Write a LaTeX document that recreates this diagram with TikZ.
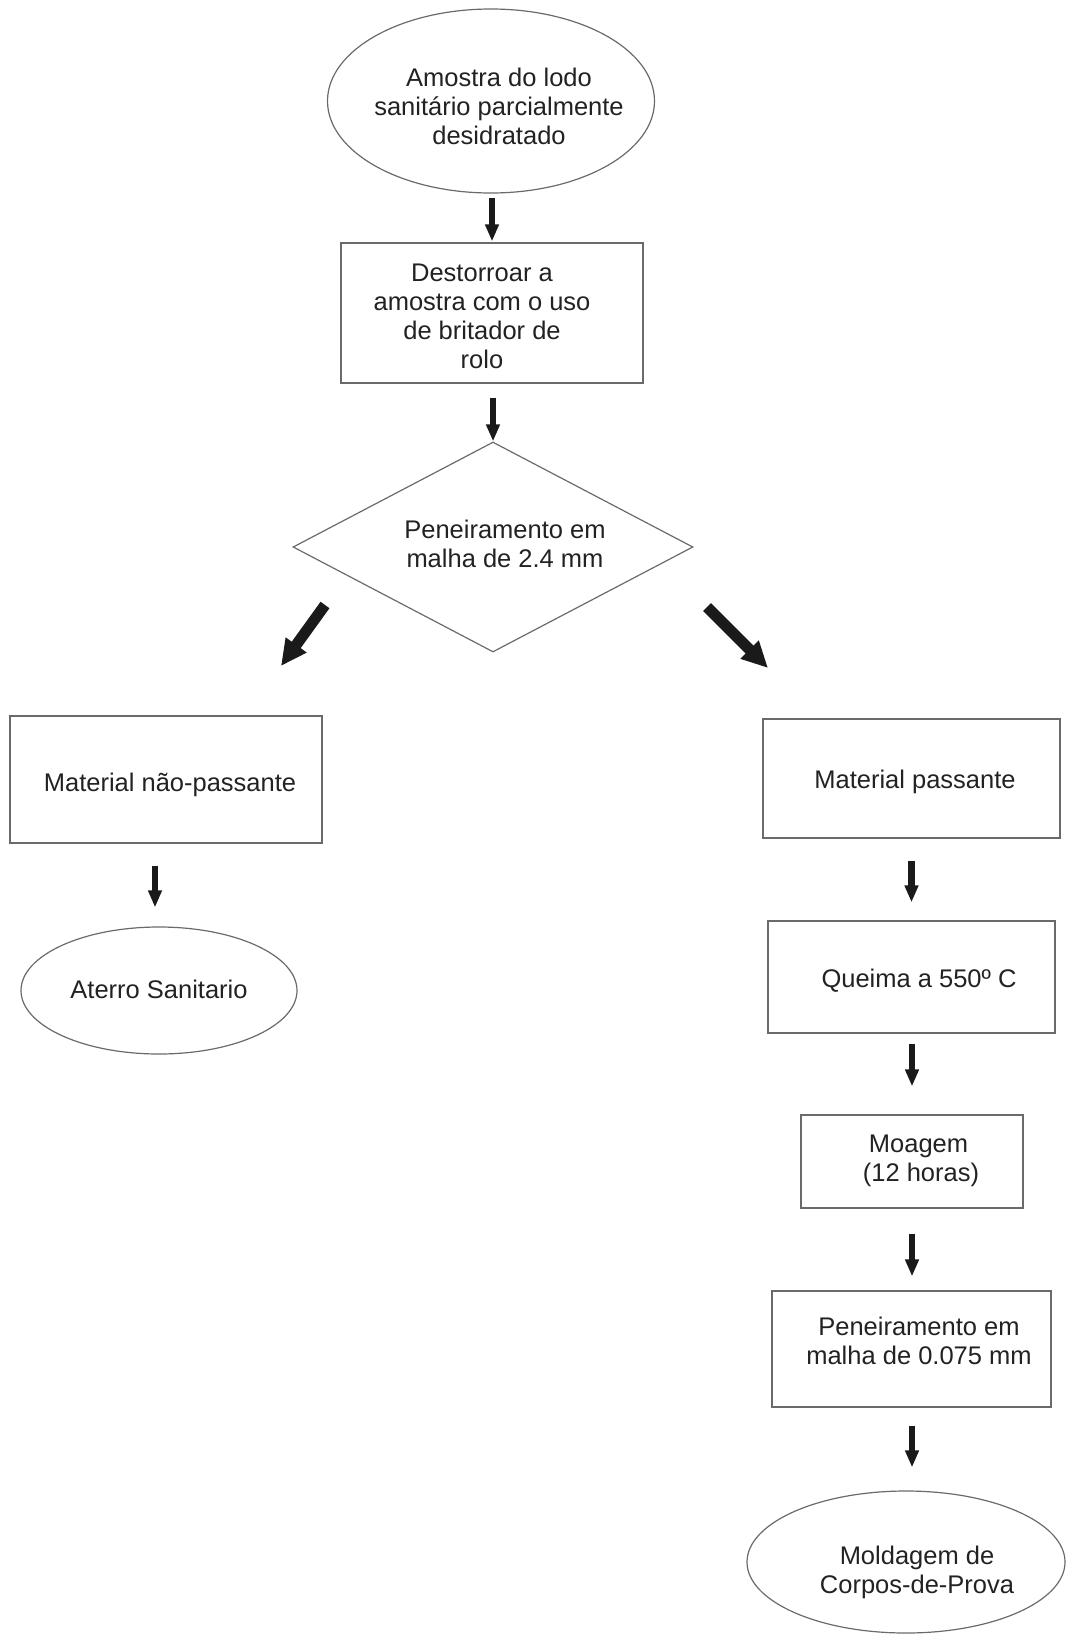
\documentclass[tikz,border=0pt]{standalone}
\usepackage{fontspec}
\setmainfont{Liberation Sans}
\usetikzlibrary{shapes.geometric,arrows.meta,calc}
\definecolor{outline}{HTML}{6A6A6A}
\definecolor{ink}{HTML}{222222}
\definecolor{arrowfill}{HTML}{1A1A1A}
\begin{document}
\begin{tikzpicture}[x=1pt,y=-1pt,
  stepbox/.style={draw=outline, line width=1.2pt, rectangle, inner sep=0pt},
  oval/.style={draw=outline, line width=1.2pt, ellipse, inner sep=0pt},
  rhomb/.style={draw=outline, line width=1.2pt, diamond, inner sep=0pt},
  txt/.style={text=ink, font=\fontsize{25.5pt}{29pt}\selectfont, align=center, inner sep=0pt},
  varrow/.style={draw=arrowfill, line width=6.5pt, -{Triangle[width=13pt,length=17pt]}},
  darrow/.style={draw=arrowfill, line width=11pt, -{Triangle[width=24pt,length=26pt]}},
]
\useasboundingbox (0,0) rectangle (1074,1636);

% main trunk
\node[oval, minimum width=327pt, minimum height=184pt] (start) at (491,101) {};
\node[txt] (startT) at (499,106) {Amostra do lodo\\sanitário parcialmente\\desidratado};

\node[stepbox, minimum width=302pt, minimum height=140pt] (crush) at (492,313) {};
\node[txt] (crushT) at (482,316) {Destorroar a\\amostra com o uso\\de britador de\\rolo};

\node[rhomb, minimum width=400pt, minimum height=210pt] (sieve) at (493,547) {};
\node[txt] (sieveT) at (505,544) {Peneiramento em\\malha de 2.4 mm};

% left branch
\node[stepbox, minimum width=312pt, minimum height=127pt] (retained) at (166,779.5) {};
\node[txt] (retainedT) at (170,785) {Material não-passante};

\node[oval, minimum width=276pt, minimum height=127pt] (landfill) at (159,990.5) {};
\node[txt] (landfillT) at (159,989) {Aterro Sanitario};

% right branch
\node[stepbox, minimum width=297pt, minimum height=119pt] (passed) at (911.5,778.5) {};
\node[txt] (passedT) at (915,782) {Material passante};

\node[stepbox, minimum width=287pt, minimum height=112pt] (burn) at (911.5,977) {};
\node[txt] (burnT) at (919,981) {Queima a 550º C};

\node[stepbox, minimum width=222pt, minimum height=93pt] (mill) at (912,1161.5) {};
\node[txt] (millT) at (918.5,1161) {Moagem\\\hspace*{5pt}(12 horas)};

\node[stepbox, minimum width=279pt, minimum height=116pt] (fine) at (911.5,1349) {};
\node[txt] (fineT) at (919,1341) {Peneiramento em\\malha de 0.075 mm};

\node[oval, minimum width=318pt, minimum height=142pt] (mould) at (906,1562) {};
\node[txt] (mouldT) at (917,1572) {Moldagem de\\Corpos-de-Prova};

% vertical arrows
\draw[varrow, shorten <=4pt, shorten >=1pt] (crush.north |- start.south) -- (crush.north);
\draw[varrow, shorten <=14pt] (sieve.north |- crush.south) -- (sieve.north);
\draw[varrow, shorten <=22pt, shorten >=19pt] ($(landfill.north |- retained.south)+(-4,0)$) -- ($(landfill.north)+(-4,0)$);
\draw[varrow, shorten <=22pt, shorten >=18pt] (passed.south) -- (passed.south |- burn.north);
\draw[varrow, shorten <=10pt, shorten >=28pt] (mill.north |- burn.south) -- (mill.north);
\draw[varrow, shorten <=25pt, shorten >=14pt] (mill.south) -- (mill.south |- fine.north);
\draw[varrow, shorten <=18pt, shorten >=23pt] (mill.south |- fine.south) -- (mill.south |- mould.north);

% diagonal arrows leaving the sieve
\coordinate (leftTail) at (325,605);
\coordinate (leftTip) at (281,666);
\coordinate (rightTail) at (707,607);
\coordinate (rightTip) at (768,668);
\draw[darrow] (leftTail) -- (leftTip);
\draw[darrow] (rightTail) -- (rightTip);
\end{tikzpicture}
\end{document}
